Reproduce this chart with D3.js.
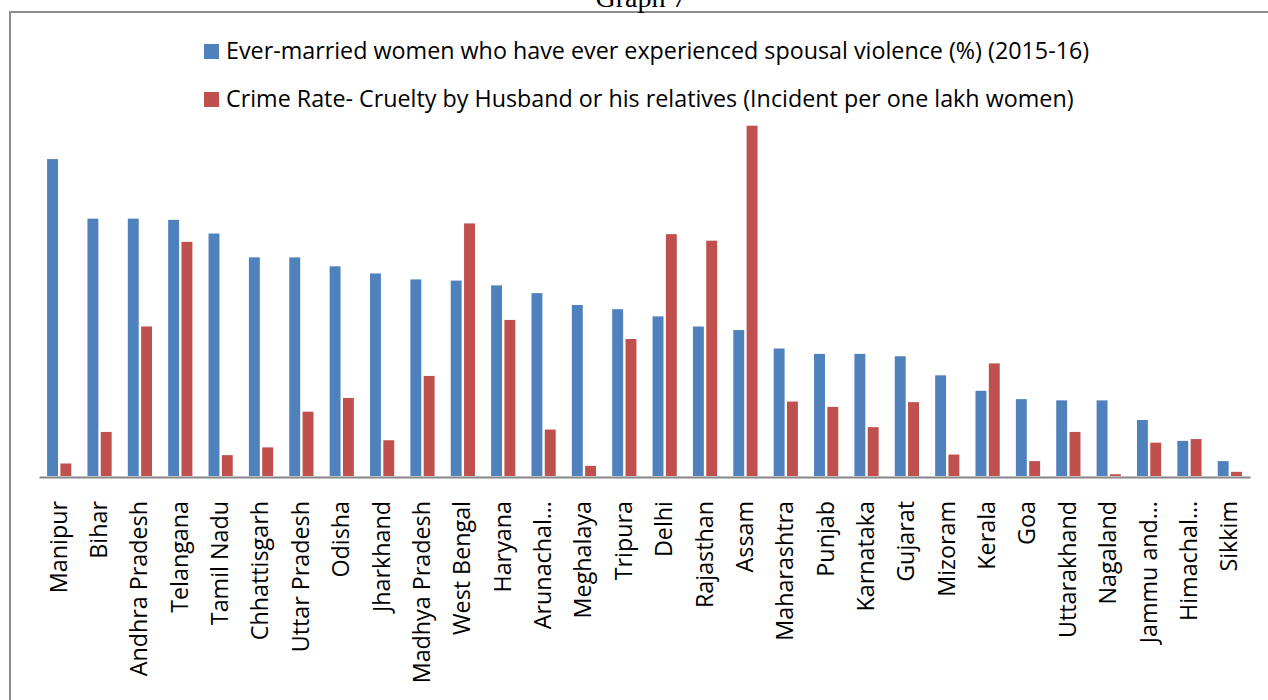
<!DOCTYPE html>
<html>
<head>
<meta charset="utf-8">
<script src="https://cdn.jsdelivr.net/npm/d3@7"></script>
<style>
  html, body { margin: 0; padding: 0; background: #fff; }
  svg { display: block; }
</style>
</head>
<body>
<svg id="chart" width="1268" height="700"></svg>
<script>
// States, ordered by share of women reporting spousal violence
const states = [
  "Manipur", "Bihar", "Andhra Pradesh", "Telangana", "Tamil Nadu", "Chhattisgarh",
  "Uttar Pradesh", "Odisha", "Jharkhand", "Madhya Pradesh", "West Bengal", "Haryana",
  "Arunachal Pradesh", "Meghalaya", "Tripura", "Delhi", "Rajasthan", "Assam",
  "Maharashtra", "Punjab", "Karnataka", "Gujarat", "Mizoram", "Kerala", "Goa",
  "Uttarakhand", "Nagaland", "Jammu and Kashmir", "Himachal Pradesh", "Sikkim"
];

// Axis labels as printed (long names are cut short)
const stateLabels = [
  "Manipur", "Bihar", "Andhra Pradesh", "Telangana", "Tamil Nadu", "Chhattisgarh",
  "Uttar Pradesh", "Odisha", "Jharkhand", "Madhya Pradesh", "West Bengal", "Haryana",
  "Arunachal…", "Meghalaya", "Tripura", "Delhi", "Rajasthan", "Assam",
  "Maharashtra", "Punjab", "Karnataka", "Gujarat", "Mizoram", "Kerala", "Goa",
  "Uttarakhand", "Nagaland", "Jammu and…", "Himachal…", "Sikkim"
];

// Ever-married women who have ever experienced spousal violence (%), 2015-16
const spousalViolence = [
  53.2, 43.2, 43.2, 43.0, 40.7, 36.7, 36.7, 35.2, 34.0, 33.0, 32.8, 32.0,
  30.7, 28.7, 28.0, 26.8, 25.1, 24.5, 21.4, 20.5, 20.5, 20.1, 16.9, 14.3,
  12.9, 12.7, 12.7, 9.4, 5.9, 2.5
];

// Crime rate: cruelty by husband or his relatives (incidents per lakh women)
const crueltyRate = [
  2.1, 7.4, 25.1, 39.3, 3.5, 4.8, 10.8, 13.1, 6.0, 16.8, 42.4, 26.2,
  7.8, 1.7, 23.0, 40.6, 39.5, 58.8, 12.5, 11.6, 8.2, 12.4, 3.6, 18.9,
  2.5, 7.4, 0.3, 5.6, 6.2, 0.7
];

const seriesNames = [
  "Ever-married women who have ever experienced spousal violence (%) (2015-16)",
  "Crime Rate- Cruelty by Husband or his relatives (Incident per one lakh women)"
];
const seriesColors = ["#4F81BD", "#C0504D"];

const yMax = 70;
const titleText = "Graph 7";

const svg = d3.select("#chart");
const font = "'Open Sans', 'Noto Sans', sans-serif";
const fontSize = 23.3;

// Frame around the chart
svg.append("path")
  .attr("d", "M10,700 V12 H1268")
  .attr("fill", "none")
  .attr("stroke", "#8c8c8c")
  .attr("stroke-width", 2);

// Caption above the frame (only its lower part shows)
svg.append("text")
  .attr("x", 641)
  .attr("y", 7)
  .attr("text-anchor", "middle")
  .attr("font-family", "'Liberation Serif', 'Times New Roman', serif")
  .attr("font-size", 28)
  .attr("fill", "#000")
  .text(titleText);

const plot = { left: 39, right: 1250, bottom: 476, top: 59 };

const x0 = d3.scaleBand()
  .domain(states)
  .range([plot.left, plot.right])
  .paddingInner(0)
  .paddingOuter(0);

const bw = x0.bandwidth();
const x1 = d3.scaleBand()
  .domain([0, 1])
  .range([bw * 0.2, bw * 0.8])
  .paddingInner(0.18);

const y = d3.scaleLinear()
  .domain([0, yMax])
  .range([plot.bottom, plot.top]);

const rows = states.map((s, i) => ({ state: s, values: [spousalViolence[i], crueltyRate[i]] }));

const groups = svg.append("g")
  .selectAll("g")
  .data(rows)
  .join("g")
  .attr("transform", d => `translate(${x0(d.state)},0)`);

groups.selectAll("rect")
  .data(d => d.values.map((v, k) => ({ k, v })))
  .join("rect")
  .attr("x", d => x1(d.k))
  .attr("width", x1.bandwidth())
  .attr("y", d => y(d.v))
  .attr("height", d => y(0) - y(d.v))
  .attr("fill", d => seriesColors[d.k]);

// Category axis
const xAxis = svg.append("g")
  .attr("transform", `translate(0,${plot.bottom + 1})`)
  .call(d3.axisBottom(x0).tickSize(0).tickFormat((d, i) => stateLabels[i]));

xAxis.select(".domain")
  .attr("stroke", "#868686")
  .attr("stroke-width", 2);

xAxis.selectAll("text")
  .attr("font-family", font)
  .attr("font-size", fontSize)
  .attr("fill", "#000")
  .attr("text-anchor", "end")
  .attr("dy", "0.32em")
  .attr("transform", "translate(0,24) rotate(-90)")
  .attr("x", 0)
  .attr("y", 0);

// Legend
const legend = svg.append("g")
  .selectAll("g")
  .data(seriesNames)
  .join("g")
  .attr("transform", (d, i) => `translate(204,${44 + i * 48})`);

legend.append("rect")
  .attr("width", 15)
  .attr("height", 15)
  .attr("fill", (d, i) => seriesColors[i]);

legend.append("text")
  .attr("x", 22)
  .attr("y", 15)
  .attr("font-family", font)
  .attr("font-size", fontSize)
  .attr("fill", "#000")
  .text(d => d);
</script>
</body>
</html>
